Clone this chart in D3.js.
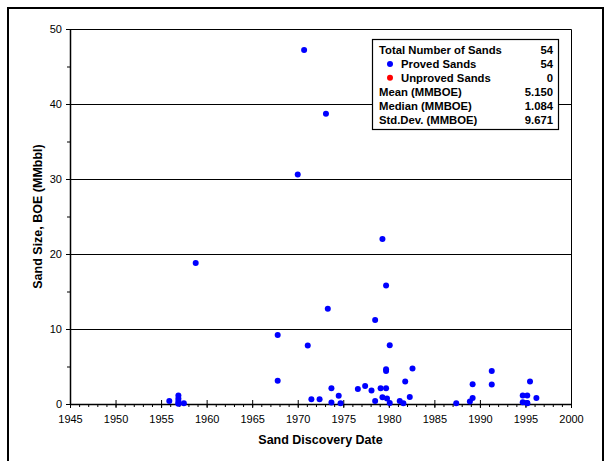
<!DOCTYPE html>
<html>
<head>
<meta charset="utf-8">
<script src="https://cdn.jsdelivr.net/npm/d3@7"></script>
<style>
  body { margin: 0; background: #fff; }
  svg { display: block; font-family: "Liberation Sans", Arial, sans-serif; }
</style>
</head>
<body>
<div id="chart"></div>
<script>
// discovery year and sand size (MMbbl)
const years = [1955.9, 1956.9, 1956.9, 1956.9, 1956.9, 1956.9, 1957.5, 1958.8,
  1967.8, 1967.8, 1970.0, 1970.7, 1971.1, 1971.5, 1972.4, 1973.1, 1973.3, 1973.7, 1973.7,
  1974.5, 1974.7, 1976.6, 1977.4, 1978.1, 1978.5, 1978.5, 1979.1, 1979.3, 1979.3,
  1979.7, 1979.7, 1979.7, 1979.7, 1979.8, 1980.1, 1980.1, 1981.2, 1981.6, 1981.8,
  1982.3, 1982.6, 1987.4, 1988.9, 1989.2, 1989.2, 1991.3, 1991.3, 1994.7, 1995.2,
  1994.7, 1995.2, 1995.2, 1995.5, 1996.2];
const sizes = [0.4, 1.15, 0.75, 0.4, 0.1, 0.05, 0.1, 18.8,
  9.2, 3.1, 30.6, 47.2, 7.8, 0.65, 0.65, 38.7, 12.7, 2.1, 0.2,
  1.1, 0.1, 2.0, 2.4, 1.8, 11.2, 0.4, 2.1, 22.0, 0.9,
  2.1, 15.8, 4.65, 4.4, 0.75, 7.85, 0.15, 0.4, 0.1, 3.0,
  0.95, 4.75, 0.1, 0.35, 0.8, 2.65, 4.4, 2.6, 1.15, 1.15,
  0.25, 0.15, 0.1, 3.0, 0.8];

const xTicks = [1945, 1950, 1955, 1960, 1965, 1970, 1975, 1980, 1985, 1990, 1995, 2000];
const yTicks = [0, 10, 20, 30, 40, 50];

const legendLabels = ["Total Number of Sands", "Proved Sands", "Unproved Sands",
  "Mean (MMBOE)", "Median (MMBOE)", "Std.Dev. (MMBOE)"];
const legendValues = ["54", "54", "0", "5.150", "1.084", "9.671"];
const legendDots = [null, "#0000ff", "#ff0000", null, null, null];

const W = 609, H = 461;
const pLeft = 70, pRight = 571, pTop = 29, pBottom = 404;

const svg = d3.select("#chart").append("svg")
  .attr("width", W)
  .attr("height", H);

// outer frame
svg.append("rect")
  .attr("x", 8).attr("y", 8)
  .attr("width", 595).attr("height", 470)
  .attr("fill", "none")
  .attr("stroke", "#000")
  .attr("stroke-width", 2);

const x = d3.scaleLinear().domain([1945, 2000]).range([pLeft, pRight]);
const y = d3.scaleLinear().domain([0, 50]).range([pBottom, pTop]);

// gridlines
svg.append("g").selectAll("line")
  .data(yTicks.filter(d => d > 0 && d < 50))
  .enter().append("line")
  .attr("x1", pLeft).attr("x2", pRight)
  .attr("y1", d => Math.round(y(d)) + 0.5)
  .attr("y2", d => Math.round(y(d)) + 0.5)
  .attr("stroke", "#000");

// top and right border of plot
svg.append("path")
  .attr("d", `M${pLeft},${pTop + 0.5}H${pRight + 0.5}V${pBottom}`)
  .attr("fill", "none")
  .attr("stroke", "#000");

// minor ticks
svg.append("g")
  .attr("transform", `translate(0,${pBottom})`)
  .call(d3.axisBottom(x).tickValues(d3.range(1945, 2001, 1)).tickSize(3).tickFormat(""))
  .call(g => g.select(".domain").remove());
svg.append("g")
  .attr("transform", `translate(${pLeft},0)`)
  .call(d3.axisLeft(y).tickValues(d3.range(5, 50, 10)).tickSize(3).tickFormat(""))
  .call(g => g.select(".domain").remove());

// major axes
const xAxis = svg.append("g")
  .attr("transform", `translate(0,${pBottom})`)
  .call(d3.axisBottom(x).tickValues(xTicks).tickSize(4).tickSizeOuter(0).tickPadding(7).tickFormat(d3.format("d")));
xAxis.selectAll(".tick line").attr("y1", -4);
xAxis.selectAll("text").attr("font-size", 11).attr("font-family", "Liberation Sans, Arial").attr("fill", "#000");

const yAxis = svg.append("g")
  .attr("transform", `translate(${pLeft},0)`)
  .call(d3.axisLeft(y).tickValues(yTicks).tickSize(4).tickSizeOuter(0).tickPadding(4));
yAxis.selectAll("text").attr("font-size", 11).attr("font-family", "Liberation Sans, Arial").attr("fill", "#000");
svg.selectAll(".domain").attr("stroke-width", 1.5);

// points
svg.append("g").selectAll("circle")
  .data(years.map((d, i) => [d, sizes[i]]))
  .enter().append("circle")
  .attr("cx", d => x(d[0]))
  .attr("cy", d => y(d[1]))
  .attr("r", 3)
  .attr("fill", "#0000ff");

// axis titles
svg.append("text")
  .attr("x", (pLeft + pRight) / 2)
  .attr("y", 444)
  .attr("text-anchor", "middle")
  .attr("font-size", 12.5)
  .attr("font-weight", "bold")
  .text("Sand Discovery Date");

svg.append("text")
  .attr("transform", `translate(42,${(pTop + pBottom) / 2}) rotate(-90)`)
  .attr("text-anchor", "middle")
  .attr("font-size", 12.5)
  .attr("font-weight", "bold")
  .text("Sand Size, BOE (MMbbl)");

// legend / stats box
const lg = svg.append("g");
lg.append("rect")
  .attr("x", 372.5).attr("y", 39.5)
  .attr("width", 186).attr("height", 90)
  .attr("fill", "#fff")
  .attr("stroke", "#000")
  .attr("stroke-width", 1.2);

legendLabels.forEach((lab, i) => {
  const yy = 54 + i * 13.9;
  const dot = legendDots[i];
  if (dot) {
    lg.append("circle").attr("cx", 390).attr("cy", yy - 4).attr("r", 3).attr("fill", dot);
  }
  lg.append("text")
    .attr("x", dot ? 401 : 379)
    .attr("y", yy)
    .attr("font-size", 11.3)
    .attr("font-weight", "bold")
    .text(lab);
  lg.append("text")
    .attr("x", 553)
    .attr("y", yy)
    .attr("text-anchor", "end")
    .attr("font-size", 11.3)
    .attr("font-weight", "bold")
    .text(legendValues[i]);
});
</script>
</body>
</html>
